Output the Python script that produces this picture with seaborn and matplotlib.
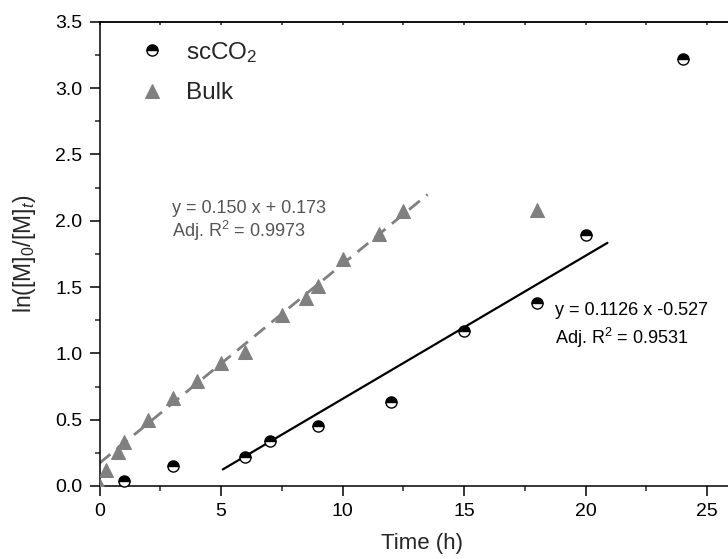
import numpy as np
import pandas as pd
import matplotlib
matplotlib.use("Agg")
import matplotlib.pyplot as plt
import seaborn as sns
from matplotlib.ticker import MultipleLocator, FormatStrFormatter

# scCO2 data (half filled circles)
sc_time = [1, 3, 6, 7, 9, 12, 15, 18, 20, 24]
sc_ln = [0.04, 0.15, 0.22, 0.34, 0.45, 0.63, 1.17, 1.38, 1.89, 3.22]

# Bulk data (grey triangles)
bulk_time = [0.0, 0.25, 0.75, 1, 2, 3, 4, 5, 6, 7.5, 8.5, 9, 10, 11.5, 12.5, 18]
bulk_ln = [0.0, 0.12, 0.26, 0.33, 0.50, 0.66, 0.79, 0.93, 1.01, 1.29, 1.42, 1.51, 1.71, 1.90, 2.07, 2.08]

# fitted lines as drawn
bulk_fit_x = [0.0, 13.5]
bulk_fit_y = [0.173, 2.198]
sc_fit_x = [5.07, 20.9]
sc_fit_y = [0.125, 1.833]

sns.set_style("ticks")
plt.rcParams["font.family"] = ["Liberation Sans", "DejaVu Sans"]
plt.rcParams["mathtext.fontset"] = "custom"
plt.rcParams["mathtext.rm"] = "Liberation Sans"
plt.rcParams["mathtext.it"] = "Liberation Sans:italic"

fig = plt.figure(figsize=(7.28, 5.59), dpi=100)
# axes run past the right edge of the picture (cropped original)
x0, x1 = 99.6, 744.0
ax = fig.add_axes([x0 / 728, 1 - 486 / 559, (x1 - x0) / 728, (486 - 21.7) / 559])

sc = pd.DataFrame({"t": sc_time, "y": sc_ln})
bulk = pd.DataFrame({"t": bulk_time, "y": bulk_ln})

# fit lines
sns.lineplot(x=bulk_fit_x, y=bulk_fit_y, ax=ax, color="#808080", lw=2,
             linestyle=(0, (5, 3)), zorder=2)
sns.lineplot(x=sc_fit_x, y=sc_fit_y, ax=ax, color="black", lw=1.6, zorder=2)

# points
sns.lineplot(data=bulk, x="t", y="y", ax=ax, linestyle="", marker="^",
             color="#808080", markersize=9.5, markeredgecolor="#808080",
             label="Bulk", zorder=3)
sns.lineplot(data=sc, x="t", y="y", ax=ax, linestyle="", marker="o",
             color="black", markersize=8, fillstyle="top",
             markerfacecolor="black", markerfacecoloralt="white",
             markeredgecolor="black", markeredgewidth=1.0,
             label="scCO$_2$", zorder=4, clip_on=False)

ax.text(3.0, 2.09, "y = 0.150 x + 0.173", color="#555555", fontsize=13, va="center")
ax.text(3.0, 1.925, "Adj. R$^2$ = 0.9973", color="#555555", fontsize=13, va="center")
ax.text(18.74, 1.32, "y = 0.1126 x -0.527", color="black", fontsize=13, va="center")
ax.text(18.74, 1.115, "Adj. R$^2$ = 0.9531", color="black", fontsize=13, va="center")

ax.set_xlim(0, (x1 - x0) / 24.3)
ax.set_ylim(0, 3.5)
ax.xaxis.set_major_locator(MultipleLocator(5))
ax.xaxis.set_minor_locator(MultipleLocator(2.5))
ax.yaxis.set_major_locator(MultipleLocator(0.5))
ax.yaxis.set_minor_locator(MultipleLocator(0.25))
ax.yaxis.set_major_formatter(FormatStrFormatter("%.1f"))

ax.set_xlabel("Time (h)", fontsize=16, labelpad=9)
ax.set_ylabel("ln([M]$_0$/[M]$_t$)", fontsize=16.5, labelpad=12)

ax.tick_params(axis="both", which="major", direction="out", length=7, width=1.1,
               labelsize=14, pad=5.5, color="black", labelcolor="black")
ax.tick_params(axis="both", which="minor", direction="out", length=3.5, width=1.1)
for s in ["left", "bottom", "top"]:
    ax.spines[s].set_linewidth(1.1)
    ax.spines[s].set_color("black")
ax.spines["right"].set_visible(False)

# small inward ticks along the top spine
top = ax.secondary_xaxis("top")
top.xaxis.set_major_locator(MultipleLocator(2.5))
top.tick_params(direction="in", length=2.5, width=1.1, labeltop=False)
top.spines["top"].set_linewidth(1.1)

handles, labels = ax.get_legend_handles_labels()
order = [labels.index("scCO$_2$"), labels.index("Bulk")]
ax.legend([handles[i] for i in order], [labels[i] for i in order],
          loc="upper left", bbox_to_anchor=(0.025, 1.008), frameon=False,
          fontsize=17.5, labelspacing=0.72, handletextpad=0.8, handlelength=1.2)

fig.savefig("out.png", dpi=100)
